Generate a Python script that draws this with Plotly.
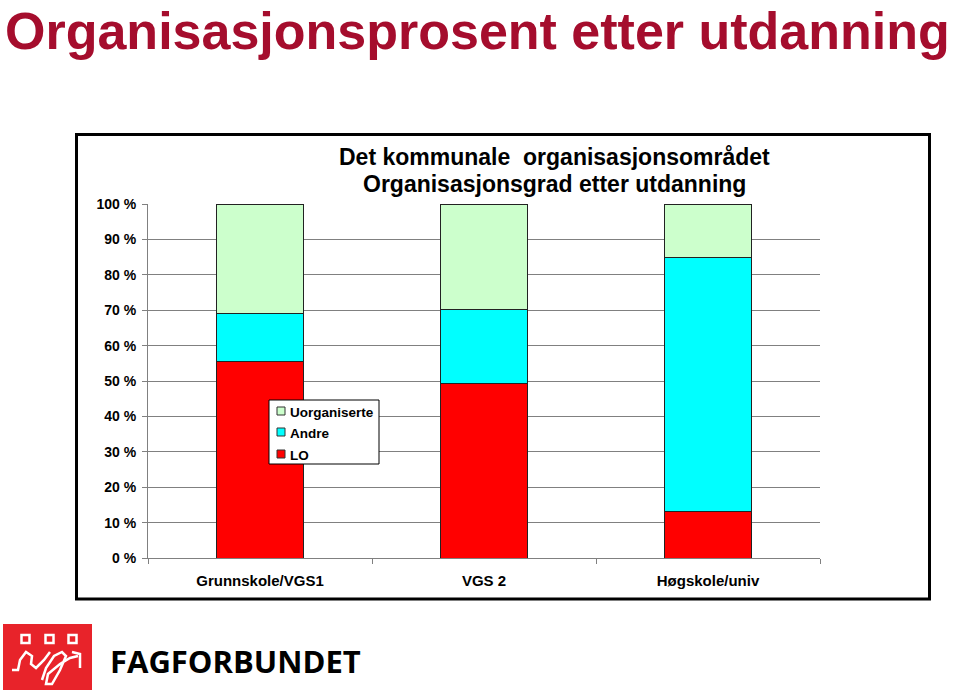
import plotly.graph_objects as go

categories = ["Grunnskole/VGS1", "VGS 2", "Høgskole/univ"]
lo = [55.4, 49.4, 13.0]
andre = [13.8, 20.7, 72.0]
uorganiserte = [30.8, 29.9, 15.0]
tick_vals = [0, 10, 20, 30, 40, 50, 60, 70, 80, 90, 100]
tick_text = [f"{v} %" for v in tick_vals]

W, H = 959, 695
L, R, T, B = 148, 820, 204, 558

def px(x):
    return (x - L) / (R - L)

def py(y):
    return (B - y) / (B - T)

fig = go.Figure()
series = [("LO", lo, "#FF0000"), ("Andre", andre, "#00FFFF"), ("Uorganiserte", uorganiserte, "#CCFFCC")]
for name, vals, col in series:
    fig.add_trace(go.Bar(x=categories, y=vals, name=name,
                         marker=dict(color=col, line=dict(color="#222222", width=1)),
                         width=0.39, showlegend=False))

font = "Liberation Sans, Arial, sans-serif"
fig.update_layout(
    width=W, height=H,
    margin=dict(l=L, r=W - R, t=T, b=H - B, pad=0),
    barmode="stack",
    plot_bgcolor="white", paper_bgcolor="white",
    font=dict(family=font, color="black"),
    showlegend=False,
    xaxis=dict(showline=True, linecolor="#808080", linewidth=1, ticks="outside",
               tickson="boundaries", ticklen=5, tickcolor="#808080",
               tickfont=dict(size=15, family=font, color="black", weight="bold"), showgrid=False,
               range=[-0.5, 2.5], ticklabelstandoff=9),
    yaxis=dict(range=[0, 100], tickvals=tick_vals, ticktext=tick_text,
               showline=True, linecolor="#808080", linewidth=1, ticks="outside",
               ticklen=5, tickcolor="#808080", showgrid=True, gridcolor="#808080",
               gridwidth=1, tickfont=dict(size=14, family=font, color="black", weight="bold"),
               ticklabelstandoff=3, zeroline=False),
)

shapes = []
# chart frame
shapes.append(dict(type="rect", xref="paper", yref="paper",
                   x0=px(76.5), x1=px(929.5), y0=py(599), y1=py(134.5),
                   line=dict(color="black", width=3), fillcolor="rgba(0,0,0,0)", layer="below"))

# custom legend (order reversed: top item is last series)
leg_x0, leg_x1, leg_y0, leg_y1 = 269, 379, 400, 464
shapes.append(dict(type="rect", xref="paper", yref="paper",
                   x0=px(leg_x0), x1=px(leg_x1), y0=py(leg_y1), y1=py(leg_y0),
                   line=dict(color="black", width=1), fillcolor="white"))
legend_rows_y = [411, 432, 454]
for (name, vals, col), ry in zip(reversed(series), legend_rows_y):
    shapes.append(dict(type="rect", xref="paper", yref="paper",
                       x0=px(277), x1=px(285), y0=py(ry + 4), y1=py(ry - 4),
                       line=dict(color="#333333", width=1), fillcolor=col))
    fig.add_annotation(x=px(288), y=py(ry + 1), xref="paper", yref="paper",
                       xanchor="left", yanchor="middle", text=f"<b>{name}</b>",
                       showarrow=False, font=dict(size=13.5, family=font, color="black"))

# logo red square
shapes.append(dict(type="rect", xref="paper", yref="paper",
                   x0=px(3), x1=px(92), y0=py(690), y1=py(624),
                   line=dict(width=0), fillcolor="#E8232A"))
for cx in [25.5, 49.5, 72.5]:
    shapes.append(dict(type="rect", xref="paper", yref="paper",
                       x0=px(cx - 4), x1=px(cx + 4), y0=py(643), y1=py(635),
                       line=dict(color="white", width=2.5), fillcolor="#E8232A"))

def path_from(points):
    s = ""
    for i, (x, y) in enumerate(points):
        s += ("M" if i == 0 else " L") + f"{px(x):.5f},{py(y):.5f}"
    return s

logo_lines = [
    [(12, 670), (18, 670), (20, 660), (26, 652), (32, 656), (31, 664), (36, 668), (44, 660), (50, 652)],
    [(42, 680), (46, 668), (54, 656), (62, 652), (66, 656), (60, 670), (52, 684), (46, 684), (48, 674), (60, 664), (70, 658), (78, 656)],
    [(72, 652), (80, 654), (80, 668)],
]
for pts in logo_lines:
    shapes.append(dict(type="path", xref="paper", yref="paper", path=path_from(pts),
                       line=dict(color="white", width=2.5)))
fig.update_layout(shapes=shapes)

fig.add_annotation(x=px(3), y=py(0), xref="paper", yref="paper", xanchor="left", yanchor="top",
                   text="<b>Organisasjonsprosent etter utdanning</b>", showarrow=False,
                   font=dict(size=52, color="#A50D2D", family=font))
fig.add_annotation(x=px(554), y=py(157), xref="paper", yref="paper", xanchor="center", yanchor="middle",
                   text="<b>Det kommunale&nbsp; organisasjonsområdet</b>",
                   showarrow=False, font=dict(size=23, color="black", family=font))
fig.add_annotation(x=px(554), y=py(184), xref="paper", yref="paper", xanchor="center", yanchor="middle",
                   text="<b>Organisasjonsgrad etter utdanning</b>",
                   showarrow=False, font=dict(size=23, color="black", family=font))
fig.add_annotation(x=px(108), y=py(661), xref="paper", yref="paper", xanchor="left", yanchor="middle",
                   text="<b>FAGFORBUNDET</b>", showarrow=False,
                   font=dict(size=31, color="black", family="Open Sans, sans-serif"))

fig.write_html("out.html")
